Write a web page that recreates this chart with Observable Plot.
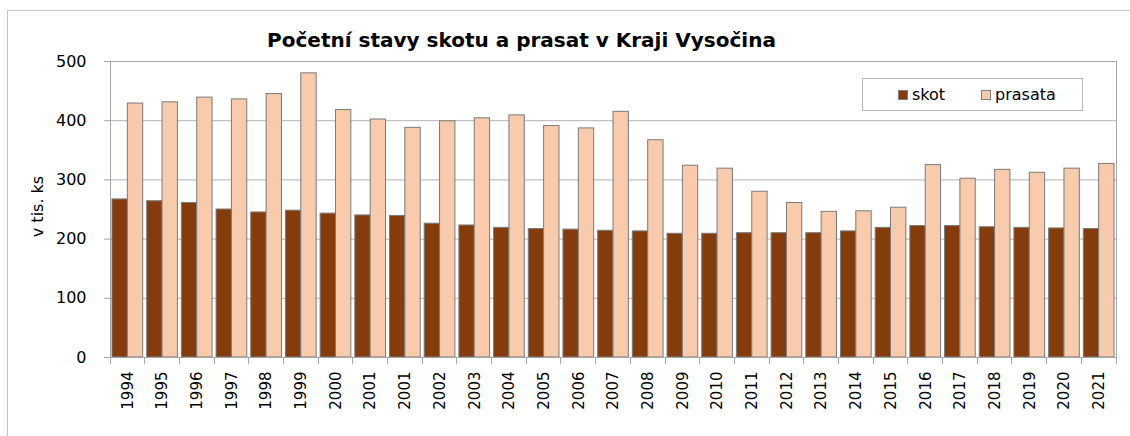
<!DOCTYPE html>
<html>
<head>
<meta charset="utf-8">
<script src="https://cdn.jsdelivr.net/npm/d3@7"></script>
<script src="https://cdn.jsdelivr.net/npm/@observablehq/plot@0.6"></script>
<style>
  body { margin: 0; background: #fff; font-family: "DejaVu Sans", sans-serif; }
  #wrap { position: relative; width: 1130px; height: 436px; overflow: hidden; background: #fff; }
  #border { position: absolute; left: 7px; top: 10px; width: 1300px; height: 600px; border: 1px solid #c4c4c4; box-sizing: border-box; }
  #chart { position: absolute; left: 0; top: 0; }
  #title { position: absolute; left: 0; width: 1043px; top: 30px; line-height: 20px; text-align: center; font-weight: bold; font-size: 20px; color: #000; white-space: nowrap; }
  #legend { position: absolute; left: 862px; top: 78px; width: 221px; height: 33px; border: 1px solid #b8b8b8; box-sizing: border-box; background: #fff; }
  .sw { position: absolute; width: 10px; height: 10px; box-sizing: border-box; border: 1px solid #7f7f7f; }
  .lt { position: absolute; font-size: 16px; line-height: 16px; color: #000; white-space: nowrap; }
</style>
</head>
<body>
<div id="wrap">
  <div id="border"></div>
  <div id="chart"></div>
  <div id="title"></div>
  <div id="legend"></div>
</div>
<script>
// ---- data ----
const titleText = "Početní stavy skotu a prasat v Kraji Vysočina";
const yLabel = "v tis. ks";
const labels = ["1994","1995","1996","1997","1998","1999","2000","2001","2001","2002","2003","2004","2005","2006","2007","2008","2009","2010","2011","2012","2013","2014","2015","2016","2017","2018","2019","2020","2021"];
const skot = [267,264,261,250,245,248,243,240,239,226,223,219,217,216,214,213,209,209,210,210,210,213,219,222,222,220,219,218,217];
const prasata = [429,431,439,436,445,480,418,402,388,399,404,409,391,387,415,367,324,319,280,261,246,247,253,325,302,317,312,319,327];
const seriesNames = ["skot", "prasata"];
const seriesColors = ["#843C0C", "#F8CBAD"];
const yTicks = [0, 100, 200, 300, 400, 500];

const n = labels.length;
const rows = labels.map((label, i) => ({i, label, skot: skot[i], prasata: prasata[i]}));

const W = 1130, H = 436, mL = 110, mR = 14, mT = 61, mB = 79;
const padIn = 0.115, padOut = padIn / 2;
const step = (W - mL - mR) / (n - padIn + 2 * padOut);
const half = step * (1 - padIn) / 2;

const catTicks = (index, scales, values, dims) => {
  const x = scales.x, y = scales.y;
  const st = x.step ? x.step() : step;
  const bw = x.bandwidth ? x.bandwidth() : step * (1 - padIn);
  const x0 = x(0) - (st - bw) / 2;
  const g = d3.create("svg:g").attr("stroke", "#a6a6a6").attr("shape-rendering", "crispEdges");
  for (let k = 0; k <= n; k++) {
    const xx = x0 + k * st;
    g.append("line").attr("x1", xx).attr("x2", xx).attr("y1", y(0)).attr("y2", y(0) + 7);
  }
  return g.node();
};

const chart = Plot.plot({
  width: W, height: H,
  marginLeft: mL, marginRight: mR, marginTop: mT, marginBottom: mB,
  style: {fontFamily: "DejaVu Sans, sans-serif", fontSize: "16px", color: "#000", background: "transparent", overflow: "visible"},
  x: {type: "band", domain: d3.range(n), paddingInner: padIn, paddingOuter: padOut, align: 0.5, round: false},
  y: {domain: [0, 500]},
  marks: [
    Plot.gridY(yTicks.slice(1, -1), {stroke: "#b3b3b3", strokeOpacity: 1}),
    Plot.barY(rows, {x: "i", y: seriesNames[0], fill: seriesColors[0], stroke: "#7a7a7a", strokeWidth: 1, insetLeft: 0, insetRight: half}),
    Plot.barY(rows, {x: "i", y: seriesNames[1], fill: seriesColors[1], stroke: "#7a7a7a", strokeWidth: 1, insetLeft: half, insetRight: 0}),
    Plot.frame({stroke: "#a6a6a6"}),
    Plot.axisY(yTicks, {tickSize: 6, tickPadding: 18, stroke: "#a6a6a6", fontSize: 16, label: null}),
    Plot.axisX({tickSize: 0, tickRotate: -90, tickPadding: 14, tickFormat: i => labels[i], fontSize: 15, label: null}),
    catTicks,
    Plot.text([yLabel], {text: d => d, frameAnchor: "left", textAnchor: "middle", lineAnchor: "middle", dx: -73, dy: -3, rotate: -90, fontSize: 16, fill: "#000"})
  ]
});
document.getElementById("chart").appendChild(chart);
document.getElementById("title").textContent = titleText;

// legend
const legend = document.getElementById("legend");
const legendPos = [{sx: 35, tx: 49}, {sx: 118, tx: 132}];
seriesNames.forEach((s, k) => {
  const sw = document.createElement("div");
  sw.className = "sw";
  sw.style.left = legendPos[k].sx + "px";
  sw.style.top = "11px";
  sw.style.background = seriesColors[k];
  legend.appendChild(sw);
  const t = document.createElement("div");
  t.className = "lt";
  t.style.left = legendPos[k].tx + "px";
  t.style.top = "8px";
  t.textContent = s;
  legend.appendChild(t);
});
</script>
</body>
</html>
